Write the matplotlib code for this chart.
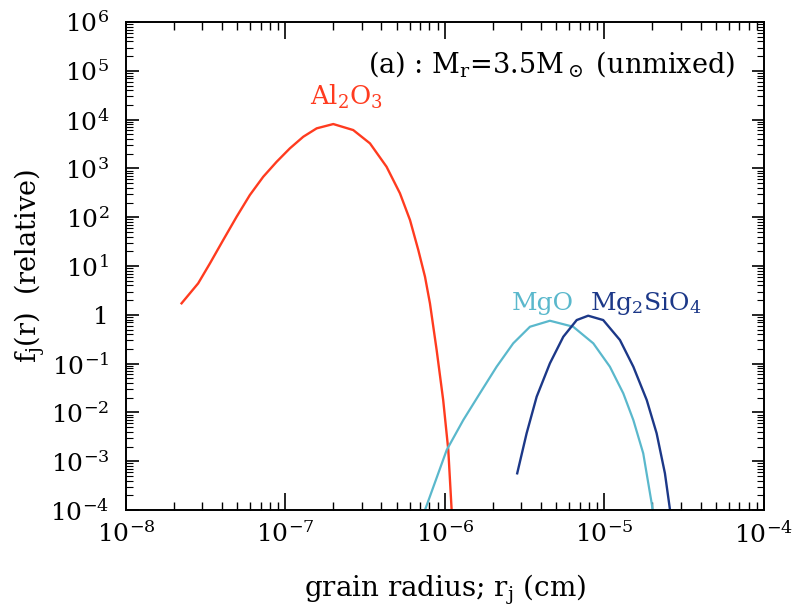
import numpy as np
import matplotlib
matplotlib.use("Agg")
import matplotlib.pyplot as plt
from matplotlib.ticker import LogLocator, FixedLocator, NullFormatter

plt.rcParams['font.family'] = ['DejaVu Serif']
plt.rcParams['mathtext.fontset'] = 'dejavuserif'
plt.rcParams['mathtext.default'] = 'regular'

# Data (log10 values)
al2o3_logr = [-7.651, -7.547, -7.473, -7.390, -7.306, -7.223, -7.139, -7.055, -6.972, -6.888,
              -6.804, -6.700, -6.575, -6.470, -6.366, -6.282, -6.219, -6.167, -6.125, -6.094,
              -6.052, -6.011, -5.979, -5.958]
al2o3_logf = [0.236, 0.645, 1.055, 1.533, 2.010, 2.455, 2.830, 3.137, 3.412, 3.650,
              3.822, 3.910, 3.787, 3.514, 3.035, 2.490, 1.943, 1.328, 0.781, 0.236,
              -0.721, -1.746, -2.770, -4.0]

mgo_logr = [-6.125, -5.989, -5.885, -5.781, -5.676, -5.572, -5.467, -5.342, -5.196, -5.070,
            -4.966, -4.882, -4.819, -4.757, -4.704, -4.698]
mgo_logf = [-4.0, -2.770, -2.156, -1.609, -1.063, -0.584, -0.244, -0.121, -0.244, -0.584,
            -1.063, -1.609, -2.156, -2.838, -3.863, -4.0]

fo_logr = [-5.547, -5.488, -5.425, -5.342, -5.258, -5.174, -5.102, -5.008, -4.903, -4.819,
           -4.735, -4.673, -4.621, -4.589]
fo_logf = [-3.248, -2.428, -1.678, -0.994, -0.449, -0.107, -0.018, -0.107, -0.516, -1.063,
           -1.746, -2.428, -3.248, -4.0]

x_ticks = [1e-8, 1e-7, 1e-6, 1e-5, 1e-4]
x_labels = [r'$10^{-8}$', r'$10^{-7}$', r'$10^{-6}$', r'$10^{-5}$', r'$10^{-4}$']
y_ticks = [1e-4, 1e-3, 1e-2, 1e-1, 1, 1e1, 1e2, 1e3, 1e4, 1e5, 1e6]
y_labels = [r'$10^{-4}$', r'$10^{-3}$', r'$10^{-2}$', r'$10^{-1}$', '1', r'$10^{1}$',
            r'$10^{2}$', r'$10^{3}$', r'$10^{4}$', r'$10^{5}$', r'$10^{6}$']

red = '#ff3b1f'
cyan = '#5ab8cc'
navy = '#1c3888'

fig = plt.figure(figsize=(8.07, 6.13), dpi=100)
ax = fig.add_axes([0.156, 0.168, 0.7907, 0.796])

ax.plot(10**np.array(al2o3_logr), 10**np.array(al2o3_logf), color=red, lw=1.7)
ax.plot(10**np.array(mgo_logr), 10**np.array(mgo_logf), color=cyan, lw=1.6)
ax.plot(10**np.array(fo_logr), 10**np.array(fo_logf), color=navy, lw=1.7)

ax.set_xscale('log')
ax.set_yscale('log')
ax.set_xlim(1e-8, 1e-4)
ax.set_ylim(1e-4, 1e6)

ax.xaxis.set_major_locator(FixedLocator(x_ticks))
ax.set_xticklabels(x_labels)
ax.yaxis.set_major_locator(FixedLocator(y_ticks))
ax.set_yticklabels(y_labels)
ax.xaxis.set_minor_locator(LogLocator(base=10, subs=np.arange(2, 10), numticks=20))
ax.yaxis.set_minor_locator(LogLocator(base=10, subs=np.arange(2, 10), numticks=20))
ax.xaxis.set_minor_formatter(NullFormatter())
ax.yaxis.set_minor_formatter(NullFormatter())

ax.tick_params(axis='both', which='both', direction='in', top=True, right=True, labelsize=18)
ax.tick_params(axis='x', which='major', length=12, width=1.2, pad=8)
ax.tick_params(axis='x', which='minor', length=6, width=1.0)
ax.tick_params(axis='y', which='major', length=9, width=1.2, pad=12)
ax.tick_params(axis='y', which='minor', length=5, width=0.8)
for s in ax.spines.values():
    s.set_linewidth(1.4)

ax.set_xlabel(r'grain radius; r$_j$ (cm)', fontsize=20, labelpad=18)
ax.set_ylabel(r'f$_j$(r)  (relative)', fontsize=19.5, labelpad=2)

ax.text(0.955, 0.915, r'(a) : M$_r$=3.5M$_\odot$ (unmixed)', transform=ax.transAxes,
        ha='right', va='center', fontsize=19.5)
ax.text(2.43e-7, 10**4.3, r'Al$_2$O$_3$', color=red, ha='center', va='baseline', fontsize=18.5)
ax.text(4.11e-6, 1.25, 'MgO', color=cyan, ha='center', va='baseline', fontsize=18)
ax.text(1.81e-5, 1.25, r'Mg$_2$SiO$_4$', color=navy, ha='center', va='baseline', fontsize=18)

fig.savefig('out.png', dpi=100)
